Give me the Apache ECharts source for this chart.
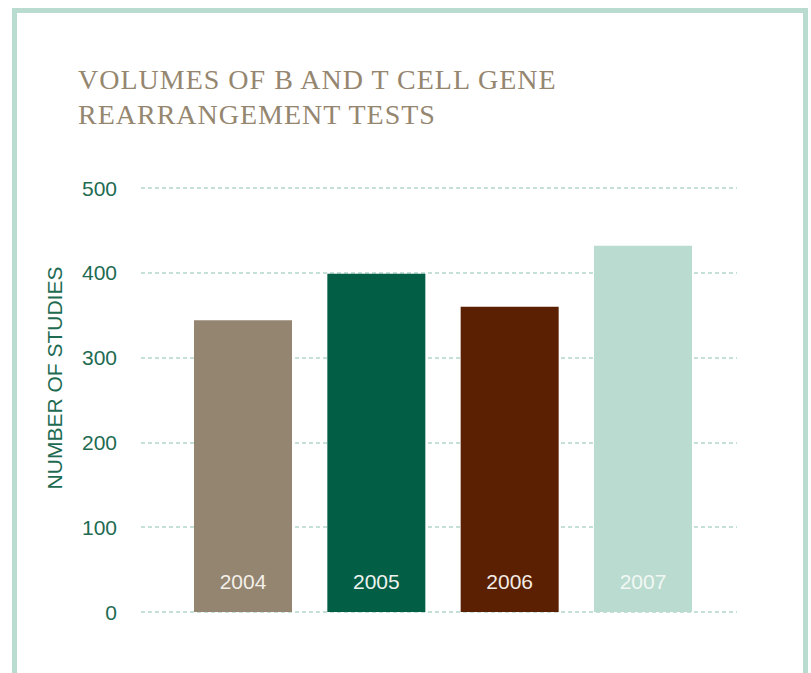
<!DOCTYPE html>
<html>
<head>
<meta charset="utf-8">
<script src="https://cdn.jsdelivr.net/npm/echarts@6/dist/echarts.min.js"></script>
<style>
  html, body { margin: 0; padding: 0; background: #ffffff; }
  #chart { width: 811px; height: 673px; }
  #chart svg text[style*="Serif"], #chart svg text[font-family*="Serif"] { letter-spacing: 1px; }
</style>
</head>
<body>
<div id="chart"></div>
<script>
const titleText = 'VOLUMES OF B AND T CELL GENE\nREARRANGEMENT TESTS';
const axisName = 'NUMBER OF STUDIES';
const years = ['2004', '2005', '2006', '2007'];
const studies = [344, 399, 360, 432];
const barColors = ['#948570', '#025e44', '#5a2001', '#badbcf'];
const labelColors = ['#f3efe9', '#eef3f0', '#f3ece6', '#f2f8f5'];
const yMin = 0, yMax = 500, yStep = 100;

const chart = echarts.init(document.getElementById('chart'), null, { renderer: 'svg' });
const axisGreen = '#1e6b52';

chart.setOption({
  backgroundColor: '#ffffff',
  animation: false,
  graphic: [{
    type: 'rect',
    shape: { x: 14.5, y: 10.5, width: 791, height: 720 },
    style: { fill: 'none', stroke: '#badbcf', lineWidth: 5 },
    silent: true
  }],
  title: {
    text: titleText,
    left: 78,
    top: 62,
    padding: 0,
    textStyle: {
      fontFamily: 'Liberation Serif',
      fontWeight: 'normal',
      fontSize: 28,
      lineHeight: 35,
      color: '#958670'
    }
  },
  grid: [
    { left: 141, right: 74, top: 188, bottom: 61 },
    { left: 176.33, right: 101.33, top: 188, bottom: 61 }
  ],
  xAxis: [
    { type: 'category', gridIndex: 0, data: years, show: false },
    { type: 'category', gridIndex: 1, data: years, show: false }
  ],
  yAxis: [
    {
      type: 'value', gridIndex: 0, min: yMin, max: yMax, interval: yStep,
      name: axisName,
      nameLocation: 'middle',
      nameRotate: 90,
      nameGap: 76,
      nameTextStyle: {
        fontFamily: 'Liberation Sans',
        fontSize: 21,
        color: axisGreen,
        padding: [0, 0, 0, 44]
      },
      axisLine: { show: false },
      axisTick: { show: false },
      axisLabel: {
        margin: 24,
        fontFamily: 'Liberation Sans',
        fontSize: 21,
        color: axisGreen
      },
      splitLine: {
        show: true,
        lineStyle: { color: '#b3d8ca', width: 1.5, type: [4, 3] }
      }
    },
    {
      type: 'value', gridIndex: 1, min: yMin, max: yMax, interval: yStep,
      show: false,
      splitLine: { show: false }
    }
  ],
  series: [{
    type: 'bar',
    xAxisIndex: 1,
    yAxisIndex: 1,
    barWidth: 98,
    data: studies.map((v, i) => ({
      value: v,
      itemStyle: { color: barColors[i] },
      label: { color: labelColors[i] }
    })),
    label: {
      show: true,
      position: 'insideBottom',
      distance: 20,
      formatter: '{b}',
      fontFamily: 'Liberation Sans',
      fontSize: 21
    }
  }]
});
</script>
</body>
</html>
